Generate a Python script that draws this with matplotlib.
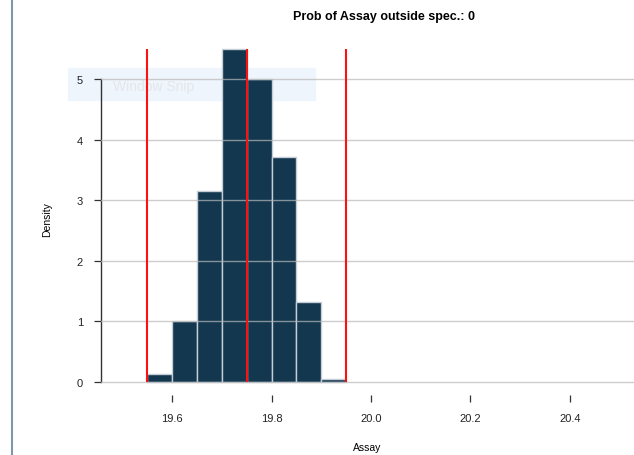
import matplotlib.pyplot as plt
from matplotlib.patches import Rectangle
from matplotlib.lines import Line2D

plt.rcParams['font.family'] = ['Liberation Sans', 'DejaVu Sans']

# histogram of Assay (density scale), bin width 0.05
bin_left = [19.55, 19.60, 19.65, 19.70, 19.75, 19.80, 19.85, 19.90]
density = [0.12, 1.0, 3.15, 5.5, 5.0, 3.71, 1.32, 0.05]
bin_width = 0.05

# spec limits and target
spec_lines = [19.55, 19.75, 19.95]
x_ticks = [19.6, 19.8, 20.0, 20.2, 20.4]
y_ticks = [0, 1, 2, 3, 4, 5]

fig = plt.figure(figsize=(6.34, 4.56), dpi=100)
ax = fig.add_axes([101 / 634, 0.1316, 1 - 101 / 634, 0.7724])
ax.set_facecolor('none')
ax.set_zorder(1)

# faint screen-snip overlay seen in the screenshot (kept behind the plot)
fig.patches.append(Rectangle((68 / 634, 1 - 101 / 456), 247 / 634, 32 / 456,
                             transform=fig.transFigure, color='#eef5fc',
                             zorder=-1))
fig.text(113 / 634, 1 - 87 / 456, 'Window Snip', color='#e4e6ea',
         fontsize=10, va='center', zorder=-0.5)

# left frame border
fig.add_artist(Line2D([12 / 634, 12 / 634], [0, 1], color='#7f97ab',
                      linewidth=1.5, transform=fig.transFigure))

ax.bar(bin_left, density, width=bin_width, align='edge', color='#12374f',
       edgecolor='#c5ced6', linewidth=1.0, zorder=2)

for y in y_ticks:
    ax.axhline(y, color='#b8b8b8', linewidth=1.0, alpha=0.7, zorder=3)

ax.vlines(spec_lines, 0, max(density), colors='#ff1010', linewidth=1.5,
          zorder=4)

ax.set_xlim(19.457, 20.529)
ax.set_ylim(-0.22, 5.6)

for s in ['top', 'right', 'bottom']:
    ax.spines[s].set_visible(False)
ax.spines['left'].set_bounds(0, 5)
ax.spines['left'].set_color('#333333')
ax.spines['left'].set_linewidth(1.0)

ax.set_xticks(x_ticks)
ax.set_xticklabels([f'{t:.1f}' for t in x_ticks])
ax.set_yticks(y_ticks)
ax.tick_params(axis='both', labelsize=8, colors='#333333', length=5,
               width=0.9, labelcolor='#222222')
ax.tick_params(axis='x', pad=8)
ax.tick_params(axis='y', pad=8)

ax.set_xlabel('Assay', fontsize=7.5, labelpad=14)
ax.set_ylabel('Density', fontsize=7.5, labelpad=18)
fig.text(384 / 634, 1 - 17 / 456, 'Prob of Assay outside spec.: 0',
         ha='center', va='center', fontsize=9, fontweight='bold')

fig.savefig('out.png', dpi=100)
